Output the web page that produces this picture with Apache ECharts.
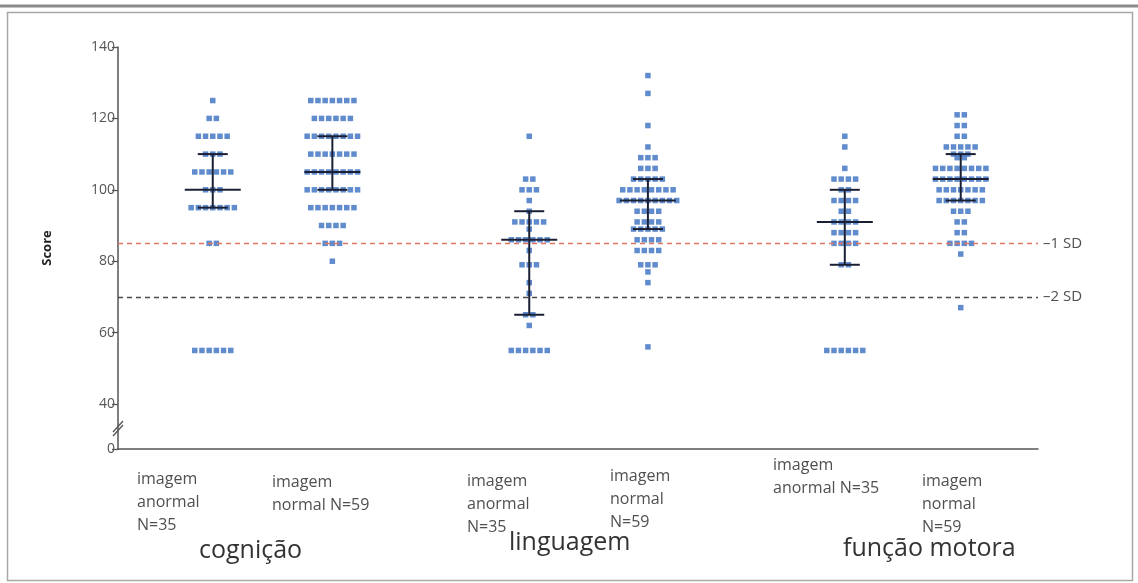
<!DOCTYPE html>
<html>
<head>
<meta charset="utf-8">
<script src="https://cdn.jsdelivr.net/npm/echarts@6/dist/echarts.min.js"></script>
<style>html,body{margin:0;padding:0;background:#fff;}#chart{width:1138px;height:583px;}</style>
</head>
<body>
<div id="chart"></div>
<script>
// ---- data ----
const groupNames = ['cognição', 'linguagem', 'função motora'];
const categoryLabels = [
  'imagem\nanormal\nN=35', 'imagem\nnormal N=59',
  'imagem\nanormal\nN=35', 'imagem\nnormal\nN=59',
  'imagem\nanormal N=35', 'imagem\nnormal\nN=59'
];
const xPositions = [10.3, 23.3, 44.7, 57.6, 79.0, 91.6];
const yTickValues = [40, 60, 80, 100, 120, 140];

const cogAnormal = [125,120,120,115,115,115,115,115,110,110,110,105,105,105,105,105,105,100,100,100,95,95,95,95,95,95,95,85,85,55,55,55,55,55,55];
const cogNormal = [125,125,125,125,125,125,125,120,120,120,120,120,120,115,115,115,115,115,115,115,115,110,110,110,110,110,110,110,105,105,105,105,105,105,105,105,100,100,100,100,100,100,100,100,95,95,95,95,95,95,95,90,90,90,90,85,85,85,80];
const lingAnormal = [115,103,103,100,100,100,97,94,91,91,91,91,91,89,86,86,86,86,86,86,83,79,79,79,74,71,65,65,62,55,55,55,55,55,55];
const lingNormal = [132,127,118,112,109,109,109,106,106,106,103,103,103,103,103,100,100,100,100,100,100,100,100,97,97,97,97,97,97,97,97,97,94,94,94,94,91,91,91,91,89,89,89,89,89,86,86,86,86,83,83,83,83,79,79,79,77,74,56];
const motAnormal = [115,112,106,103,103,103,103,100,100,97,97,97,97,94,94,91,91,91,91,88,88,88,88,85,85,85,85,79,79,55,55,55,55,55,55];
const motNormal = [121,121,118,118,115,115,112,112,112,112,112,110,110,110,109,109,106,106,106,106,106,106,106,106,103,103,103,103,103,103,103,103,100,100,100,100,100,100,100,97,97,97,97,97,97,97,94,94,94,91,91,88,88,85,85,85,85,82,67];

const groupsData = [cogAnormal, cogNormal, lingAnormal, lingNormal, motAnormal, motNormal];
// center (mean), lower, upper of error bars
const barCenter = [100, 105, 86, 97, 91, 103];
const barLow = [95, 100, 65, 89, 79, 97];
const barHigh = [110, 115, 94, 103, 100, 110];

const refLines = [85, 70];
const refLabels = ['–1 SD', '–2 SD'];

// ---- layout helpers ----
const gridLeft = 118, gridRight = 100, gridTop = 47, gridBottom = 134;
const plotW = 1138 - gridLeft - gridRight;
const pitchPx = 7.2;
const pitchUnits = pitchPx * 100 / plotW;

function swarm(values, cx) {
  const counts = {};
  values.forEach(v => { counts[v] = (counts[v] || 0) + 1; });
  const used = {};
  const pts = [];
  values.forEach(v => {
    const n = counts[v];
    const i = used[v] || 0;
    used[v] = i + 1;
    pts.push([cx + (i - (n - 1) / 2) * pitchUnits, v]);
  });
  return pts;
}

const dots = [];
groupsData.forEach((vals, gi) => { swarm(vals, xPositions[gi]).forEach(p => dots.push(p)); });

const barData = xPositions.map((x, i) => [x, barCenter[i], barLow[i], barHigh[i]]);

const chart = echarts.init(document.getElementById('chart'));
const yMin = 27.4;
const fontFam = '"Open Sans", "Noto Sans", sans-serif';

const labelXs = [137, 272, 467, 610, 773, 922];
const labelYs = [468, 471, 470, 465, 454, 470];
const groupLabelPos = [[199, 538], [509, 530], [843, 536]];

const graphics = [];
// frame
graphics.push({ type: 'rect', shape: { x: 7.5, y: 12.5, width: 1125, height: 568 }, style: { fill: 'none', stroke: '#a8a8a8', lineWidth: 1.5 }, silent: true });
graphics.push({ type: 'line', shape: { x1: 0, y1: 6, x2: 1138, y2: 6 }, style: { stroke: '#8a8a8a', lineWidth: 3 }, silent: true });
// axis break marks
graphics.push({ type: 'line', shape: { x1: 113, y1: 432, x2: 123, y2: 421 }, style: { stroke: '#555', lineWidth: 1.3 }, silent: true });
graphics.push({ type: 'line', shape: { x1: 113, y1: 436, x2: 123, y2: 425 }, style: { stroke: '#555', lineWidth: 1.3 }, silent: true });
categoryLabels.forEach((t, i) => {
  graphics.push({ type: 'text', left: labelXs[i], top: labelYs[i], style: { text: t, font: '16px ' + fontFam, fill: '#505050', lineHeight: 23 }, silent: true });
});
groupNames.forEach((t, i) => {
  graphics.push({ type: 'text', left: groupLabelPos[i][0], top: groupLabelPos[i][1], style: { text: t, font: '25px ' + fontFam, fill: '#333' }, silent: true });
});

const option = {
  backgroundColor: '#fff',
  animation: false,
  grid: { left: gridLeft, right: gridRight, top: gridTop, bottom: gridBottom },
  xAxis: {
    type: 'value', min: 0, max: 100,
    axisLine: { show: true, onZero: false, lineStyle: { color: '#555', width: 1.5 } },
    axisTick: { show: false }, axisLabel: { show: false }, splitLine: { show: false }
  },
  yAxis: {
    type: 'value', min: yMin, max: 140,
    name: 'Score', nameLocation: 'middle', nameGap: 64, nameRotate: 90,
    nameTextStyle: { fontFamily: fontFam, fontSize: 13, fontWeight: 'bold', color: '#222' },
    axisLine: { show: true, lineStyle: { color: '#555', width: 1.5 } },
    axisTick: { show: true, length: 6, customValues: [yMin].concat(yTickValues), lineStyle: { color: '#555', width: 1.3 } },
    axisLabel: {
      customValues: [yMin].concat(yTickValues),
      formatter: v => (v < 30 ? '0' : String(v)),
      fontFamily: fontFam, fontSize: 14, color: '#555', margin: 3
    },
    splitLine: { show: false }
  },
  series: [
    {
      type: 'scatter', symbol: 'rect', symbolSize: 5.5,
      itemStyle: { color: '#4f80c8', opacity: 0.9 },
      data: dots, z: 2,
      markLine: {
        silent: true, symbol: 'none',
        data: refLines.map((v, i) => [
          { coord: [0, v], lineStyle: { color: i === 0 ? '#e27562' : '#4a4a4a', type: [5, 4], width: 1.3 } },
          { coord: [100, v], label: { show: true, position: 'end', formatter: refLabels[i], color: '#505050', fontSize: 15, fontFamily: fontFam, distance: 5 } }
        ])
      }
    },
    {
      type: 'custom', z: 3,
      data: barData,
      renderItem: function (params, api) {
        const x = api.value(0);
        const c = api.coord([x, api.value(1)]);
        const lo = api.coord([x, api.value(2)]);
        const hi = api.coord([x, api.value(3)]);
        const st = { stroke: '#1b1f33', lineWidth: 2 };
        return {
          type: 'group',
          children: [
            { type: 'line', shape: { x1: c[0], y1: hi[1], x2: c[0], y2: lo[1] }, style: st },
            { type: 'line', shape: { x1: c[0] - 28, y1: c[1], x2: c[0] + 28, y2: c[1] }, style: st },
            { type: 'line', shape: { x1: c[0] - 15, y1: hi[1], x2: c[0] + 15, y2: hi[1] }, style: st },
            { type: 'line', shape: { x1: c[0] - 15, y1: lo[1], x2: c[0] + 15, y2: lo[1] }, style: st }
          ]
        };
      }
    }
  ],
  graphic: graphics
};
chart.setOption(option);
</script>
</body>
</html>
